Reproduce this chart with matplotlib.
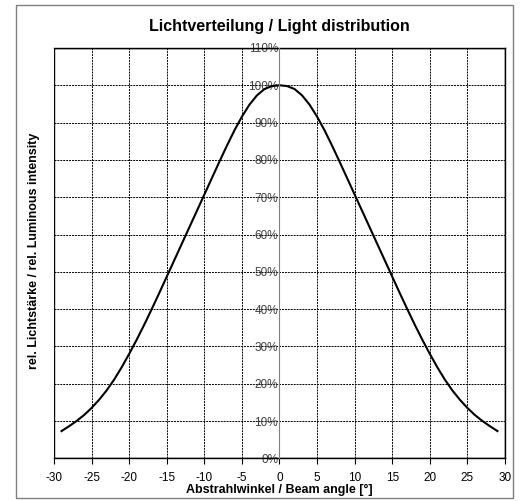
import matplotlib.pyplot as plt
from matplotlib.patches import Rectangle
from matplotlib.ticker import FuncFormatter

plt.rcParams['font.family'] = ['Liberation Sans', 'DejaVu Sans']
plt.rcParams['axes.unicode_minus'] = False

# Abstrahlwinkel [°] und relative Lichtstärke [%]
winkel = [-29, -28, -27, -26, -25, -24, -23, -22, -21, -20,
          -19, -18, -17, -16, -15, -14, -13, -12, -11, -10,
          -9, -8, -7, -6, -5, -4, -3, -2, -1, 0,
          1, 2, 3, 4, 5, 6, 7, 8, 9, 10,
          11, 12, 13, 14, 15, 16, 17, 18, 19, 20,
          21, 22, 23, 24, 25, 26, 27, 28, 29]
intensitaet = [7.3, 8.6, 10.0, 11.6, 13.5, 15.7, 18.2, 21.1, 24.4, 28.0,
               31.8, 35.8, 40.0, 44.3, 48.7, 53.1, 57.5, 61.9, 66.3, 70.7,
               75.1, 79.5, 83.8, 87.9, 91.6, 94.8, 97.3, 99.0, 99.8, 100.0,
               99.8, 99.0, 97.3, 94.8, 91.6, 87.9, 83.8, 79.5, 75.1, 70.7,
               66.3, 61.9, 57.5, 53.1, 48.7, 44.3, 40.0, 35.8, 31.8, 28.0,
               24.4, 21.1, 18.2, 15.7, 13.5, 11.6, 10.0, 8.6, 7.3]

x_ticks = list(range(-30, 31, 5))
y_ticks = list(range(0, 111, 10))

fig = plt.figure(figsize=(5.3, 5.01), dpi=100)
ax = fig.add_axes([0.1019, 0.0852, 0.8509, 0.819])

# Rahmen um das ganze Diagramm
fig.patches.append(Rectangle((0.03, 0.006), 0.937, 0.984, transform=fig.transFigure,
                             fill=False, edgecolor='#808080', linewidth=1.0))

ax.plot(winkel, intensitaet, color='black', linewidth=1.5)

ax.set_xlim(-30, 30)
ax.set_ylim(0, 110)
ax.set_xticks(x_ticks)
ax.set_yticks(y_ticks)
ax.yaxis.set_major_formatter(FuncFormatter(lambda v, p: '%d%%' % v))

ax.grid(True, color='black', linestyle=(0, (2, 1)), linewidth=0.7)

# y-Achse in der Mitte
ax.spines['left'].set_position(('data', 0))
ax.spines['left'].set_color('#808080')
ax.spines['left'].set_zorder(3)
for s in ['top', 'right', 'bottom']:
    ax.spines[s].set_color('black')
    ax.spines[s].set_linewidth(1.0)
ax.add_patch(Rectangle((0, 0), 1, 1, transform=ax.transAxes, fill=False,
                       edgecolor='black', linewidth=1.0, zorder=3))

ax.tick_params(axis='x', direction='out', length=4, labelsize=8.5, pad=6, colors='black')
ax.tick_params(axis='y', length=0, labelsize=8.5, pad=1, labelcolor='#404040')

ax.set_title('Lichtverteilung / Light distribution', fontsize=11.5, fontweight='bold', pad=12)
ax.set_xlabel('Abstrahlwinkel / Beam angle [°]', fontsize=9, fontweight='bold', labelpad=0)
fig.text(0.064, 0.5, 'rel. Lichtstärke / rel. Luminous intensity', rotation=90,
         ha='center', va='center', fontsize=9, fontweight='bold')

fig.savefig('out.png', dpi=100)
